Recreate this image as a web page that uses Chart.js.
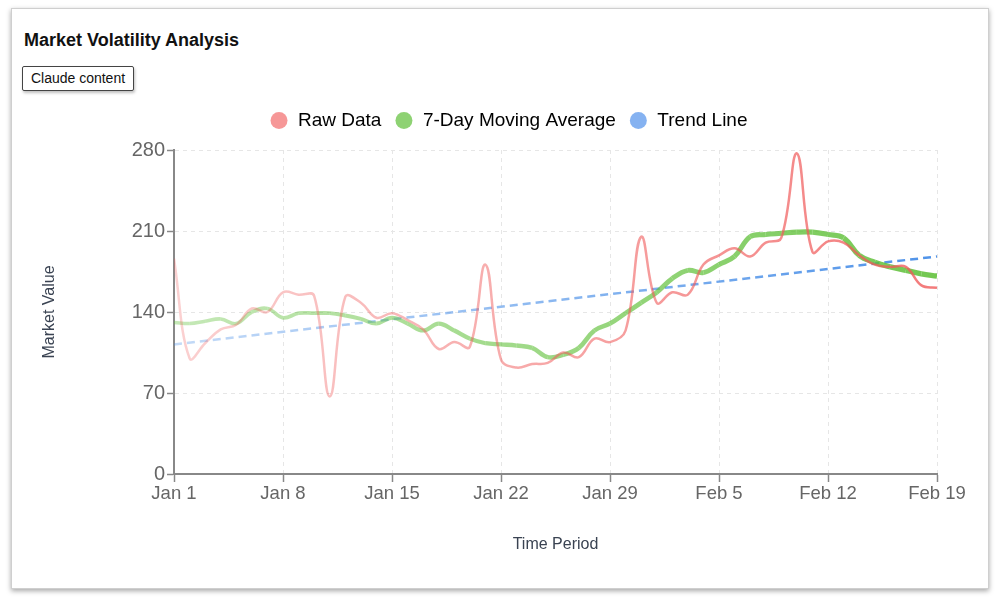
<!DOCTYPE html>
<html>
<head>
<meta charset="utf-8">
<script src="https://cdn.jsdelivr.net/npm/chart.js@4.4.1/dist/chart.umd.min.js"></script>
<style>
  html, body { margin: 0; padding: 0; background: #fff; width: 1000px; height: 602px; overflow: hidden; }
  body { font-family: 'Liberation Sans', Arial, sans-serif; }
  .frame {
    position: absolute; left: 11px; top: 8px; width: 976px; height: 579px;
    border: 1px solid #cfcfcf; box-shadow: 0 2px 5px rgba(0,0,0,0.35); background: #fff;
  }
  h1 { position: absolute; left: 24px; top: 30px; margin: 0; font-size: 18px; font-weight: bold; color: #111; }
  .btn {
    position: absolute; left: 22px; top: 66px; width: 110px; height: 23px;
    border: 1px solid #444; border-radius: 2px; background: #fff;
    box-shadow: 1px 2px 3px rgba(0,0,0,0.25);
    font-size: 14px; line-height: 23px; text-align: center; color: #111;
  }
  #wrap { position: absolute; left: 0; top: 0; width: 1000px; height: 602px; }
</style>
</head>
<body>
<div class="frame"></div>
<h1>Market Volatility Analysis</h1>
<div class="btn">Claude content</div>
<div id="wrap"><canvas id="chart"></canvas></div>
<script>
// tick labels, one every 7 days (Jan 1 .. Feb 19)
const tickLabels = ['Jan 1', 'Jan 8', 'Jan 15', 'Jan 22', 'Jan 29', 'Feb 5', 'Feb 12', 'Feb 19'];

// daily values, day 0 = Jan 1
const rawData = [
  186, 100, 113, 125, 129, 143, 140, 157, 155, 154,
  67, 153, 148, 135, 139, 133, 125, 108, 114, 110,
  181, 99, 92, 95, 96, 105, 101, 117, 114, 124,
  205, 148, 157, 155, 181, 189, 195, 188, 200, 204,
  277, 192, 201, 200, 189, 181, 179, 179, 163, 161
];
const movingAvg = [
  131, 130, 132, 134, 130, 140, 143, 135, 139, 139,
  139, 137, 134, 130, 135, 130, 124, 130, 124, 117,
  113, 112, 111, 109, 101, 103, 109, 124, 130, 139,
  148, 157, 169, 176, 174, 181, 188, 205, 207, 208,
  209, 209, 207, 204, 189, 183, 179, 176, 173, 171
];
// trend line end points (day, value)
const trendDays = [0, 49];
const trendValues = [112, 188];

const FONT = "'Liberation Sans', Arial, sans-serif";
const toPoints = (arr) => arr.map((v, i) => ({ x: i, y: v }));

function fade(r, g, b, a0, a1) {
  return (context) => {
    const { chart } = context;
    const area = chart.chartArea;
    if (!area) return `rgba(${r},${g},${b},${a1})`;
    const grad = chart.ctx.createLinearGradient(area.left, 0, area.right, 0);
    grad.addColorStop(0, `rgba(${r},${g},${b},${a0})`);
    grad.addColorStop(1, `rgba(${r},${g},${b},${a1})`);
    return grad;
  };
}

// more room under the legend, and legend nudged right
const legendTweak = {
  id: 'legendTweak',
  beforeInit(chart) {
    const fit = chart.legend.fit;
    chart.legend.fit = function () {
      fit.call(this);
      this.height += 10;
    };
  },
  afterLayout(chart) {
    chart.legend.left += 22;
    chart.legend.right += 22;
  },
};

const ctx = document.getElementById('chart');
new Chart(ctx, {
  type: 'line',
  plugins: [legendTweak],
  data: {
    datasets: [
      {
        label: 'Raw Data',
        data: toPoints(rawData),
        borderColor: fade(240, 90, 90, 0.28, 0.8),
        backgroundColor: 'rgba(245, 140, 140, 0.9)',
        borderWidth: 2.5,
        tension: 0.4,
        pointRadius: 0,
      },
      {
        label: '7-Day Moving Average',
        data: toPoints(movingAvg),
        borderColor: fade(90, 190, 50, 0.35, 0.85),
        backgroundColor: 'rgba(130, 205, 100, 0.9)',
        borderWidth: 4,
        segment: {
          borderWidth: (c) => 3.5 + 2 * (c.p0DataIndex / (movingAvg.length - 1)),
        },
        tension: 0.4,
        pointRadius: 0,
      },
      {
        label: 'Trend Line',
        data: trendDays.map((d, i) => ({ x: d, y: trendValues[i] })),
        borderColor: fade(60, 135, 230, 0.3, 0.9),
        backgroundColor: 'rgba(120, 170, 240, 0.9)',
        borderWidth: 2.5,
        borderDash: [8, 5],
        pointRadius: 0,
      },
    ],
  },
  options: {
    responsive: true,
    maintainAspectRatio: false,
    animation: false,
    layout: { padding: { top: 98, left: 36, right: 63, bottom: 44 } },
    plugins: {
      legend: {
        labels: {
          usePointStyle: true,
          pointStyle: 'circle',
          boxHeight: 12,
          padding: 13,
          color: '#222',
          font: { size: 19, family: FONT },
          generateLabels: (chart) =>
            chart.data.datasets.map((ds, i) => ({
              text: ds.label,
              fillStyle: ds.backgroundColor,
              strokeStyle: ds.backgroundColor,
              lineWidth: 0,
              pointStyle: 'circle',
              datasetIndex: i,
              hidden: false,
            })),
        },
      },
      tooltip: { enabled: false },
    },
    scales: {
      x: {
        type: 'linear',
        min: 0,
        max: 49,
        ticks: {
          stepSize: 7,
          color: '#666',
          font: { size: 18.5, family: FONT },
          padding: 1,
          maxRotation: 0,
          callback: (v) => tickLabels[v / 7],
        },
        grid: { color: '#e6e6e6', tickColor: '#888', tickLength: 8, tickWidth: 1.5 },
        border: { color: '#888', width: 2, dash: [4, 4] },
        title: {
          display: true,
          text: 'Time Period',
          color: '#3a4352',
          font: { size: 16, family: FONT },
        },
        afterFit: (scale) => { scale.height = 84; },
      },
      y: {
        min: 0,
        max: 280,
        ticks: {
          stepSize: 70,
          color: '#666',
          font: { size: 20, family: FONT },
          padding: 2,
        },
        grid: { color: '#e6e6e6', tickColor: '#888', tickLength: 7, tickWidth: 1.5 },
        border: { color: '#888', width: 2, dash: [4, 4] },
        title: {
          display: true,
          text: 'Market Value',
          color: '#3a4352',
          font: { size: 16, family: FONT },
        },
        afterFit: (scale) => { scale.width = 138; },
      },
    },
  },
});
</script>
</body>
</html>
